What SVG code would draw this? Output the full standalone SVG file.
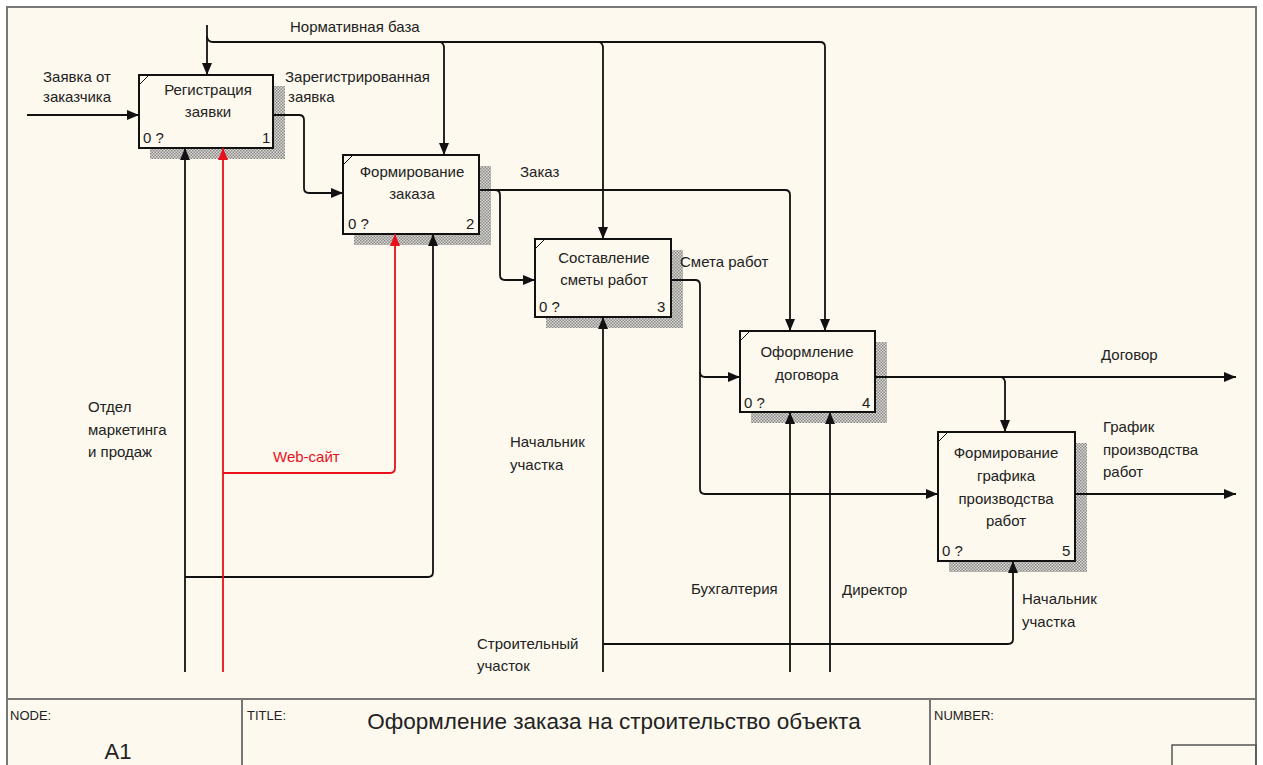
<svg xmlns="http://www.w3.org/2000/svg" width="1263" height="765" viewBox="0 0 1263 765">
<defs>
<style>
text{font-family:"Liberation Sans",Arial,sans-serif;fill:#222}
.lbl{font-size:15px}
.bx{font-size:15px;text-anchor:middle}
.num{font-size:15px}
.box{fill:#fdf9ee;stroke:#111;stroke-width:2}
.shadow{fill:url(#hatch)}
.c{fill:none;stroke:#111;stroke-width:1.8}
.r{fill:none;stroke:#e8101a;stroke-width:1.8}
.tb{fill:none;stroke:#777;stroke-width:2}
.tbt{font-size:13px}
</style>
<pattern id="hatch" width="3" height="3" patternUnits="userSpaceOnUse">
<rect width="3" height="3" fill="#dddbd3"/>
<rect width="1.5" height="1.5" fill="#888"/>
<rect x="1.5" y="1.5" width="1.5" height="1.5" fill="#888"/>
</pattern>
<marker id="ah" markerWidth="12" markerHeight="10" refX="12" refY="5" orient="auto" markerUnits="userSpaceOnUse">
<path d="M0,0 L12,5 L0,10 Z" fill="#111"/>
</marker>
<marker id="ahr" markerWidth="12" markerHeight="10" refX="12" refY="5" orient="auto" markerUnits="userSpaceOnUse">
<path d="M0,0 L12,5 L0,10 Z" fill="#e8101a"/>
</marker>
</defs>
<rect width="1263" height="765" fill="#ffffff"/>
<rect x="7" y="7" width="1249" height="770" fill="#fdf9ee" stroke="#777" stroke-width="2"/>

<g id="node1">
<rect class="shadow" x="150" y="86" width="135" height="73"/>
<rect class="box" x="139" y="75" width="134" height="73"/>
<path d="M140,84 L148,76" stroke="#111" stroke-width="1"/>
<text class="bx" x="208" y="95">Регистрация</text>
<text class="bx" x="208" y="117">заявки</text>
<text class="num" x="143" y="143">0 ?</text>
<text class="num" x="262" y="143">1</text>
</g>

<g id="node2">
<rect class="shadow" x="354" y="166" width="137" height="79"/>
<rect class="box" x="343" y="155" width="136" height="79"/>
<path d="M344,164 L352,156" stroke="#111" stroke-width="1"/>
<text class="bx" x="412" y="177">Формирование</text>
<text class="bx" x="412" y="199">заказа</text>
<text class="num" x="348" y="229">0 ?</text>
<text class="num" x="466" y="229">2</text>
</g>

<g id="node3">
<rect class="shadow" x="546" y="250" width="137" height="78"/>
<rect class="box" x="535" y="239" width="136" height="78"/>
<path d="M536,248 L544,240" stroke="#111" stroke-width="1"/>
<text class="bx" x="604" y="263">Составление</text>
<text class="bx" x="604" y="285">сметы работ</text>
<text class="num" x="539" y="312">0 ?</text>
<text class="num" x="657" y="312">3</text>
</g>

<g id="node4">
<rect class="shadow" x="751" y="342" width="136" height="81"/>
<rect class="box" x="740" y="331" width="135" height="81"/>
<path d="M741,340 L749,332" stroke="#111" stroke-width="1"/>
<text class="bx" x="807" y="357">Оформление</text>
<text class="bx" x="807" y="380">договора</text>
<text class="num" x="744" y="408">0 ?</text>
<text class="num" x="862" y="408">4</text>
</g>

<g id="node5">
<rect class="shadow" x="949" y="443" width="138" height="129"/>
<rect class="box" x="938" y="432" width="137" height="129"/>
<path d="M939,441 L947,433" stroke="#111" stroke-width="1"/>
<text class="bx" x="1006" y="458">Формирование</text>
<text class="bx" x="1006" y="481">графика</text>
<text class="bx" x="1006" y="504">производства</text>
<text class="bx" x="1006" y="526">работ</text>
<text class="num" x="942" y="556">0 ?</text>
<text class="num" x="1062" y="556">5</text>
</g>

<g id="connectors">
<path class="c" d="M27,115 H139" marker-end="url(#ah)"/>
<path class="c" d="M207,25 V75" marker-end="url(#ah)"/>
<path class="c" d="M207,36 Q207,42 213,42 H820 Q825,42 825,47 V331" marker-end="url(#ah)"/>
<path class="c" d="M440,42 Q444,43 444,48 V155" marker-end="url(#ah)"/>
<path class="c" d="M599,42 Q603,43 603,48 V239" marker-end="url(#ah)"/>
<path class="c" d="M273,115 H299 Q304,115 304,120 V188 Q304,193 309,193 H343" marker-end="url(#ah)"/>
<path class="c" d="M479,190 H785 Q790,190 790,195 V331" marker-end="url(#ah)"/>
<path class="c" d="M495,190 Q500,190 500,195 V275 Q500,280 505,280 H535" marker-end="url(#ah)"/>
<path class="c" d="M671,280 H695 Q700,280 700,285 V489 Q700,494 705,494 H938" marker-end="url(#ah)"/>
<path class="c" d="M700,372 Q700,377 705,377 H740" marker-end="url(#ah)"/>
<path class="c" d="M875,377 H1236" marker-end="url(#ah)"/>
<path class="c" d="M1001,377 Q1005,378 1005,383 V432" marker-end="url(#ah)"/>
<path class="c" d="M1075,494 H1236" marker-end="url(#ah)"/>
<path class="c" d="M185,672 V148" marker-end="url(#ah)"/>
<path class="c" d="M185,577 H428 Q433,577 433,572 V234" marker-end="url(#ah)"/>
<path class="r" d="M223,672 V148" marker-end="url(#ahr)"/>
<path class="r" d="M223,473 H390 Q395,473 395,468 V234" marker-end="url(#ahr)"/>
<path class="c" d="M603,672 V317" marker-end="url(#ah)"/>
<path class="c" d="M603,644 H1008 Q1013,644 1013,639 V561" marker-end="url(#ah)"/>
<path class="c" d="M790,672 V412" marker-end="url(#ah)"/>
<path class="c" d="M830,672 V412" marker-end="url(#ah)"/>
</g>

<g id="arrow-labels">
<text class="lbl" x="43" y="82">Заявка от</text>
<text class="lbl" x="43" y="102">заказчика</text>
<text class="lbl" x="290" y="32">Нормативная база</text>
<text class="lbl" x="285" y="82">Зарегистрированная</text>
<text class="lbl" x="288" y="102">заявка</text>
<text class="lbl" x="520" y="177">Заказ</text>
<text class="lbl" x="680" y="267">Смета работ</text>
<text class="lbl" x="1101" y="360">Договор</text>
<text class="lbl" x="1103" y="432">График</text>
<text class="lbl" x="1103" y="455">производства</text>
<text class="lbl" x="1103" y="477">работ</text>
<text class="lbl" x="88" y="412">Отдел</text>
<text class="lbl" x="88" y="435">маркетинга</text>
<text class="lbl" x="88" y="457">и продаж</text>
<text class="lbl" x="273" y="462" style="fill:#e8101a">Web-сайт</text>
<text class="lbl" x="510" y="447">Начальник</text>
<text class="lbl" x="510" y="470">участка</text>
<text class="lbl" x="691" y="594">Бухгалтерия</text>
<text class="lbl" x="842" y="595">Директор</text>
<text class="lbl" x="1022" y="604">Начальник</text>
<text class="lbl" x="1022" y="627">участка</text>
<text class="lbl" x="477" y="649">Строительный</text>
<text class="lbl" x="477" y="671">участок</text>
</g>

<g id="title-block">
<line class="tb" x1="7" y1="699" x2="1256" y2="699"/>
<line class="tb" x1="242" y1="699" x2="242" y2="765"/>
<line class="tb" x1="930" y1="699" x2="930" y2="765"/>
<rect x="1172" y="745" width="84" height="25" fill="none" stroke="#555" stroke-width="1.5"/>
<text class="tbt" x="10" y="720">NODE:</text>
<text class="tbt" x="247" y="720">TITLE:</text>
<text class="tbt" x="934" y="720">NUMBER:</text>
<text x="614" y="729" style="font-size:22.5px;text-anchor:middle">Оформление заказа на строительство объекта</text>
<text x="118" y="759" style="font-size:22px;text-anchor:middle">A1</text>
</g>
</svg>
